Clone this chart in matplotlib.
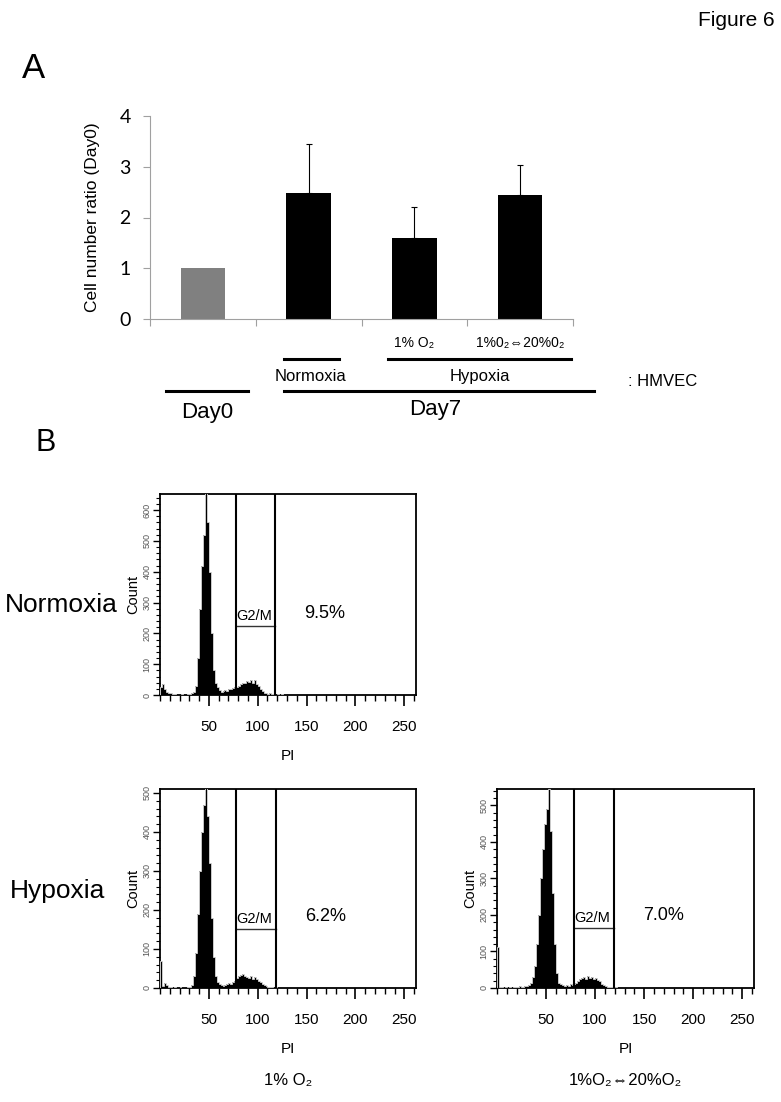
import numpy as np
import matplotlib
matplotlib.use("Agg")
import matplotlib.pyplot as plt
from matplotlib.ticker import MultipleLocator

plt.rcParams["font.family"] = ["Liberation Sans", "DejaVu Sans"]

# ---- Panel A: cell number ratio ----
groups = ["Day0", "Normoxia", "1% O₂", "1%0₂⇔20%0₂"]
ratio = [1.0, 2.48, 1.60, 2.44]
ratio_err = [0.0, 0.97, 0.60, 0.59]
bar_colors = ["#808080", "black", "black", "black"]

# ---- Panel B: PI histograms (2-unit bins from 0 to 130) ----
pi_edges = np.arange(0, 132, 2)
counts_norm = [
    25, 35, 20, 10, 5, 8, 3, 2, 0, 1, 0, 2, 0, 1, 2, 3, 5, 10, 30, 120,
    280, 420, 520, 660, 560, 400, 200, 80, 40, 25, 15, 10, 12, 15, 12, 18, 20, 22, 25, 25,
    30, 35, 40, 38, 45, 42, 48, 40, 50, 35, 30, 20, 12, 8, 5, 3, 6, 2, 3, 1,
    2, 0, 2, 1, 0,
]
counts_hyp = [
    70, 5, 12, 8, 3, 2, 1, 3, 0, 1, 2, 0, 1, 0, 2, 3, 8, 30, 90, 190,
    300, 400, 470, 530, 440, 320, 180, 80, 30, 15, 10, 8, 5, 8, 10, 12, 10, 15, 18, 25,
    30, 34, 36, 30, 28, 25, 30, 24, 28, 22, 18, 15, 10, 8, 5, 3, 2, 2, 1, 2,
    1, 0, 1, 0, 1,
]
counts_cyc = [
    112, 3, 2, 1, 2, 1, 2, 1, 2, 3, 3, 5, 3, 4, 6, 5, 8, 15, 30, 60,
    120, 200, 300, 380, 450, 490, 545, 430, 260, 120, 40, 15, 10, 8, 6, 8, 5, 10, 8, 12,
    15, 20, 25, 28, 30, 26, 32, 28, 30, 25, 28, 22, 18, 12, 8, 5, 4, 2, 3, 1,
    2, 1, 0, 1, 0,
]
hist_counts = [counts_norm, counts_hyp, counts_cyc]
hist_ymax = [652, 510, 545]
gate_lo = [77.5, 77.5, 78.0]
gate_hi = [118.0, 119.0, 119.5]
marker_y = [224, 151, 164]
g2m_pct = ["9.5%", "6.2%", "7.0%"]
cond_labels = [None, "1% O₂", "1%O₂⇔20%O₂"]

W, H = 781, 1102
fig = plt.figure(figsize=(W / 100, H / 100), dpi=100)

fig.text(775 / W, 1 - 20 / H, "Figure 6", ha="right", va="center", fontsize=15,
         family=["Liberation Sans Narrow", "Liberation Sans"])
fig.text(22 / W, 1 - 69 / H, "A", ha="left", va="center", fontsize=25,
         family=["Liberation Sans Narrow", "Liberation Sans"])
fig.text(36 / W, 1 - 443 / H, "B", ha="left", va="center", fontsize=22)

# bar chart
ax = fig.add_axes([150 / W, 1 - 319 / H, 423 / W, 203 / H])
x = np.arange(len(groups))
ax.bar(x, ratio, width=0.42, color=bar_colors, zorder=2)
ax.errorbar(x[1:], ratio[1:], yerr=[np.zeros(3), ratio_err[1:]], fmt="none",
            ecolor="black", elinewidth=0.8, capsize=2.5, capthick=0.8, zorder=3)
ax.set_xlim(-0.5, 3.5)
ax.set_ylim(0, 4)
ax.set_yticks(range(5))
ax.set_xticks(np.arange(-0.5, 4, 1))
ax.set_xticklabels([])
for s in ["top", "right"]:
    ax.spines[s].set_visible(False)
for s in ["left", "bottom"]:
    ax.spines[s].set_color("#a0a0a0")
ax.tick_params(axis="both", colors="#a0a0a0", length=5, width=0.8)
ax.tick_params(axis="y", labelcolor="black", labelsize=14, pad=9, labelfontfamily="Lato")
ax.set_ylabel("Cell number ratio (Day0)", fontsize=12.5, labelpad=14)

# group annotations under the bars
tr = ax.get_xaxis_transform()
ax.text(2, -0.118, groups[2], transform=tr, ha="center", va="center", fontsize=10)
ax.text(3, -0.118, groups[3], transform=tr, ha="center", va="center", fontsize=10)
ax.plot([0.77, 1.29], [-0.197, -0.197], transform=tr, color="black", lw=2.2, clip_on=False)
ax.plot([1.75, 3.48], [-0.197, -0.197], transform=tr, color="black", lw=2.2, clip_on=False)
ax.text(1.02, -0.281, "Normoxia", transform=tr, ha="center", va="center", fontsize=12)
ax.text(2.62, -0.281, "Hypoxia", transform=tr, ha="center", va="center", fontsize=12)
ax.plot([-0.35, 0.43], [-0.355, -0.355], transform=tr, color="black", lw=2.2, clip_on=False)
ax.plot([0.77, 3.70], [-0.355, -0.355], transform=tr, color="black", lw=2.2, clip_on=False)
ax.text(0.04, -0.463, groups[0], transform=tr, ha="center", va="center", fontsize=16)
ax.text(2.2, -0.448, "Day7", transform=tr, ha="center", va="center", fontsize=16)
fig.text(628 / W, 1 - 382 / H, ": HMVEC", ha="left", va="center", fontsize=12)

# histograms
hist_boxes = [
    [160 / W, 1 - 695 / H, 256 / W, 201 / H],
    [160 / W, 1 - 988 / H, 256 / W, 199 / H],
    [497 / W, 1 - 988 / H, 257 / W, 199 / H],
]
for i, box in enumerate(hist_boxes):
    hx = fig.add_axes(box)
    c = hist_counts[i]
    hx.stairs(c, pi_edges, fill=True, color="black", zorder=2)
    hx.stairs(c, pi_edges, color="#c8c8c8", lw=0.7, zorder=3)
    hx.set_xlim(0, 262)
    hx.set_ylim(0, hist_ymax[i])
    hx.axvline(gate_lo[i], color="black", lw=1.5, zorder=4)
    hx.axvline(gate_hi[i], color="black", lw=1.5, zorder=4)
    hx.plot([gate_lo[i], gate_hi[i]], [marker_y[i], marker_y[i]], color="#333333", lw=1)
    hx.annotate("G2/M", (gate_lo[i] + 1, marker_y[i]), xytext=(0, 2),
                textcoords="offset points", ha="left", va="bottom", fontsize=10.5)
    hx.annotate(g2m_pct[i], (gate_hi[i] + 50, marker_y[i]), xytext=(0, 9),
                textcoords="offset points", ha="center", va="center", fontsize=13)
    for s in hx.spines.values():
        s.set_linewidth(1.3)
    hx.set_xticks([50, 100, 150, 200, 250])
    hx.xaxis.set_minor_locator(MultipleLocator(10))
    hx.yaxis.set_major_locator(MultipleLocator(100))
    hx.yaxis.set_minor_locator(MultipleLocator(20))
    hx.tick_params(axis="x", which="major", length=8, width=1.2, labelsize=11, pad=10)
    hx.tick_params(axis="x", which="minor", length=4.5, width=1)
    hx.tick_params(axis="y", which="major", length=5, width=1, labelsize=6.5,
                   labelcolor="#555555", pad=1, labelrotation=90)
    hx.tick_params(axis="y", which="minor", length=3, width=0.8)
    for lab in hx.get_yticklabels():
        lab.set_va("center")
    hx.set_ylabel("Count", fontsize=10.5, labelpad=2)
    hx.set_xlabel("PI", fontsize=11, labelpad=11)
    if cond_labels[i]:
        hx.text(0.5, -0.465, cond_labels[i], transform=hx.transAxes, ha="center",
                va="center", fontsize=12)

fig.text(5 / W, 1 - 605 / H, "Normoxia", ha="left", va="center", fontsize=19)
fig.text(10 / W, 1 - 891 / H, "Hypoxia", ha="left", va="center", fontsize=19)

fig.savefig("out.png", dpi=100)
